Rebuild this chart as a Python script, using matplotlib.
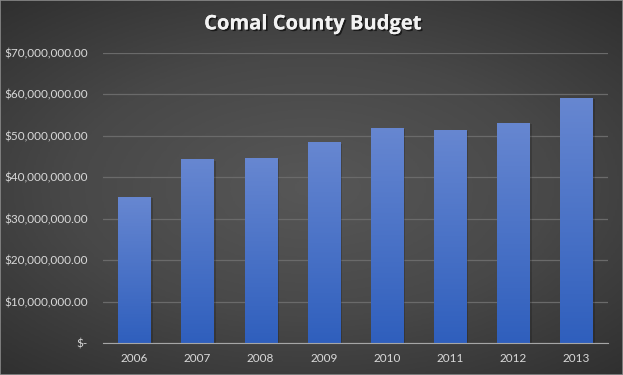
import matplotlib
matplotlib.use("Agg")
import matplotlib.pyplot as plt
import numpy as np
from matplotlib.colors import LinearSegmentedColormap
import matplotlib.patheffects as pe

plt.rcParams['font.family'] = ['Lato', 'DejaVu Sans']

years = ['2006', '2007', '2008', '2009', '2010', '2011', '2012', '2013']
budget = [35.2e6, 44.3e6, 44.6e6, 48.4e6, 52.0e6, 51.5e6, 53.2e6, 59.1e6]
yticks = [0, 10e6, 20e6, 30e6, 40e6, 50e6, 60e6, 70e6]

fig = plt.figure(figsize=(6.23, 3.75), dpi=100)

# radial gradient background
bg = fig.add_axes([0, 0, 1, 1], zorder=0)
yy, xx = np.mgrid[-1:1:200j, -1:1:300j]
r = np.sqrt((xx * 0.8) ** 2 + (yy * 0.9) ** 2)
bg_cmap = LinearSegmentedColormap.from_list('bg', ['#575757', '#484848', '#2e2e2e'])
bg.imshow(r, cmap=bg_cmap, aspect='auto', extent=[0, 1, 0, 1], vmin=0, vmax=1.25)
bg.axis('off')
bg.add_patch(plt.Rectangle((0, 0), 1, 1, fill=False, edgecolor='#8a8a8a', lw=1.2,
                           transform=bg.transAxes))

ax = fig.add_axes([0.165, 0.085, 0.811, 0.774], zorder=1)
ax.patch.set_alpha(0)

x = np.arange(len(years))
bars = ax.bar(x, budget, width=0.51, color='#4a76c9', zorder=3)

bar_cmap = LinearSegmentedColormap.from_list('bar', ['#2f5fbd', '#6787d1'])
grad = np.linspace(0, 1, 256).reshape(-1, 1)
for b in bars:
    # soft shadow to the right
    sh = plt.Rectangle((b.get_x() + 0.035, 0), b.get_width(), b.get_height() - 0.3e6,
                       color='black', alpha=0.18, zorder=2, lw=0)
    ax.add_patch(sh)
    im = ax.imshow(grad, cmap=bar_cmap, aspect='auto', origin='lower',
                   extent=[b.get_x(), b.get_x() + b.get_width(), 0, b.get_height()],
                   zorder=4)
    im.set_clip_path(b)

ax.set_xlim(-0.5, len(years) - 0.5)
ax.set_ylim(0, 70e6)
ax.set_yticks(yticks)
ax.set_yticklabels(['$-'] + ['${:,.2f}'.format(v) for v in yticks[1:]])
ax.set_xticks(x)
ax.set_xticklabels(years)
ax.tick_params(colors='#d9d9d9', labelsize=8.5, length=0)
ax.tick_params(axis='y', pad=11)
ax.tick_params(axis='x', pad=7)
ax.grid(axis='y', color='#6a6a6a', lw=0.9, zorder=1)
for s in ['top', 'right', 'left']:
    ax.spines[s].set_visible(False)
ax.spines['bottom'].set_color('#a6a6a6')
ax.spines['bottom'].set_zorder(5)

fig.text(0.502, 0.935, 'Comal County Budget', ha='center', va='center',
         color='#f2f2f2', fontsize=14.5, fontweight='bold', family='Open Sans',
         path_effects=[pe.withSimplePatchShadow(offset=(1.2, -1.2), shadow_rgbFace='black', alpha=0.6),
                       pe.Normal()])

fig.savefig('out.png', dpi=100)
